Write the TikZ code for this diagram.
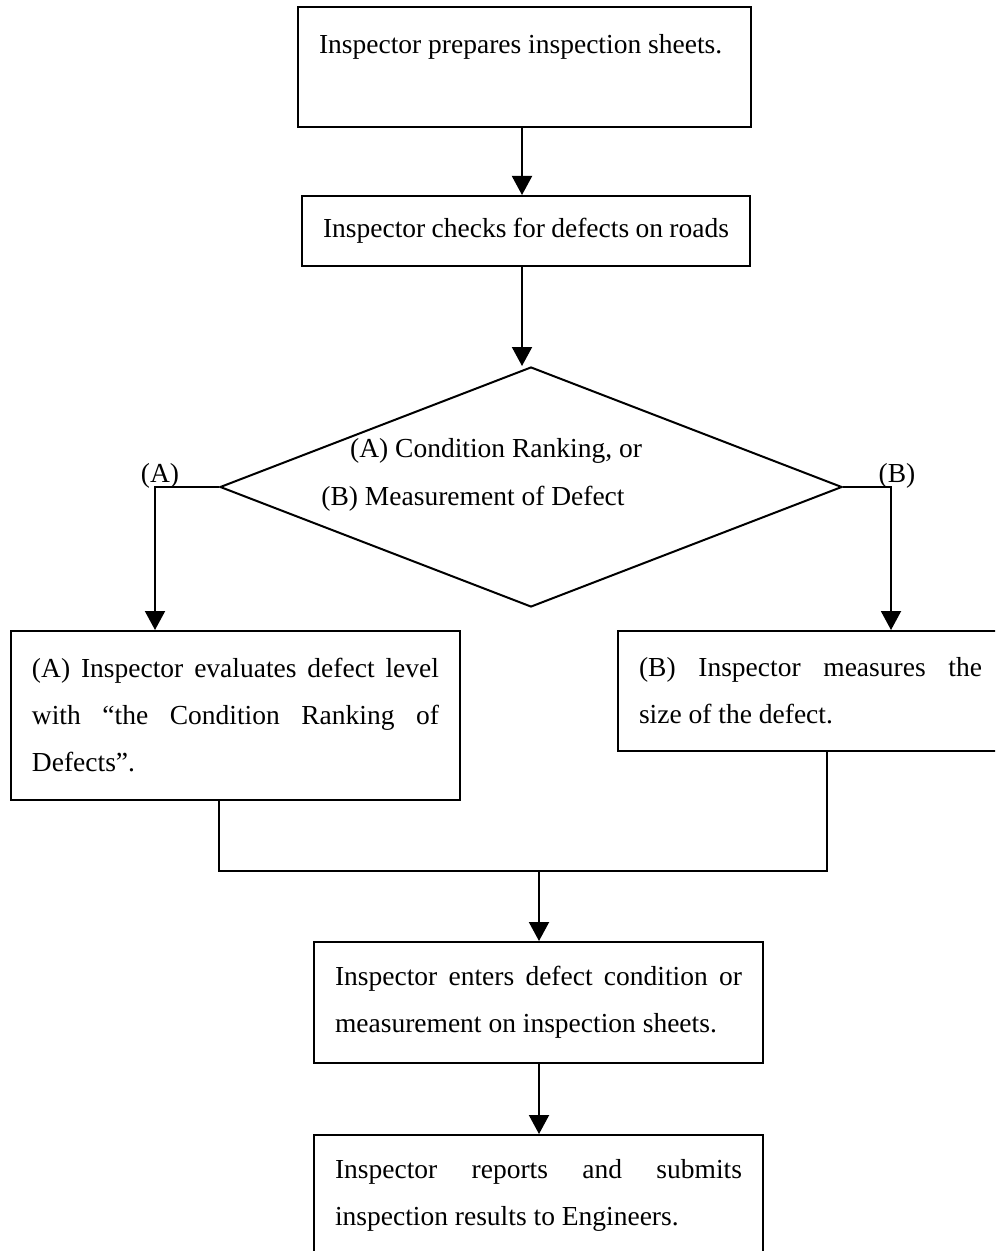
\documentclass[tikz,border=0pt]{standalone}
\usepackage{fontspec}
\setmainfont{Liberation Serif}
\usetikzlibrary{arrows.meta,shapes.geometric}
\begin{document}
\begin{tikzpicture}[x=0.5pt,y=-0.5pt,
  every node/.style={font=\fontsize{13.75}{23.5}\selectfont},
  box/.style={draw,line width=1pt,rectangle,inner xsep=10.5pt,inner ysep=0pt,align=justify,anchor=center},
  line/.style={line width=1pt},
  arr/.style={line width=1pt,-{Triangle[width=10pt,length=9.5pt]}},
  lbl/.style={inner sep=0pt,anchor=base}]
\useasboundingbox (0,0) rectangle (995,1251);
\fill[white] (0,0) rectangle (995,1251);
\clip (0,0) rectangle (995,1251);

\node[box,text width=205.5pt,minimum height=60pt] (b1) at (524.5,67) {Inspector prepares inspection sheets.\\\mbox{}};
\node[box,text width=203pt,minimum height=35pt] (b2) at (526,231) {Inspector checks for defects on roads};
\node[draw,line width=1pt,diamond,minimum width=311pt,minimum height=120pt,inner sep=0pt] (dec) at (531,487) {};
\node[lbl] (dt1) at (496,457) {(A) Condition Ranking, or};
\node[lbl] (dt2) at (473,505) {(B) Measurement of Defect};
\node[lbl] (la) at (160,482) {(A)};
\node[lbl] (lb) at (897,482) {(B)};
\node[box,text width=203.5pt,minimum height=84.5pt] (bA) at (235.5,715.5) {(A) Inspector evaluates defect level\linebreak with “the Condition Ranking of\linebreak Defects”.};
\node[box,text width=171.5pt,minimum height=60pt] (bB) at (810.5,691) {(B) Inspector measures the\linebreak size of the defect.};
\node[box,text width=203.5pt,minimum height=60.5pt] (bC) at (538.5,1002.5) {Inspector enters defect condition or\linebreak measurement on inspection sheets.};
\node[box,text width=203.5pt,minimum height=60.5pt] (bD) at (538.5,1195.5) {Inspector reports and submits\linebreak inspection results to Engineers.};

\coordinate (ax) at (522,0);
\coordinate (lc) at (155,487);
\coordinate (rc) at (891,487);
\coordinate (ma) at (219,871);
\coordinate (mb) at (827,871);
\coordinate (mc) at (539,871);

\draw[arr] (b1.south -| ax) -- (b2.north -| ax);
\draw[arr] (b2.south -| ax) -- (dec.north -| ax);
\draw[arr] (dec.west) -- (lc) -- (lc |- bA.north);
\draw[arr] (dec.east) -- (rc) -- (rc |- bB.north);
\draw[line] (bA.south -| ma) -- (ma) -- (mb) -- (bB.south -| mb);
\draw[arr] (mc) -- (mc |- bC.north);
\draw[arr] (bC.south -| mc) -- (mc |- bD.north);
\end{tikzpicture}
\end{document}
